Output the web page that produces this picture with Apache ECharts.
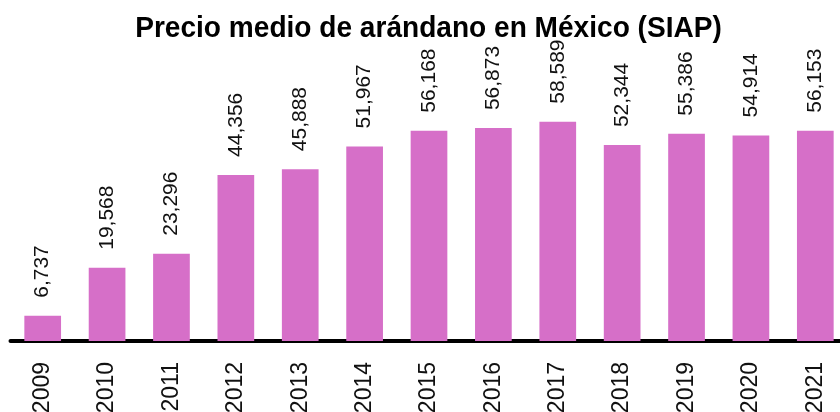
<!DOCTYPE html>
<html>
<head>
<meta charset="utf-8">
<script src="https://cdn.jsdelivr.net/npm/echarts@6/dist/echarts.min.js"></script>
<style>
    html, body { margin: 0; padding: 0; background: #fff; }
    #chart { width: 840px; height: 412px; }
</style>
</head>
<body>
<div id="chart"></div>
<script>
    var years = ['2009', '2010', '2011', '2012', '2013', '2014', '2015', '2016', '2017', '2018', '2019', '2020', '2021'];
    var precios = [6737, 19568, 23296, 44356, 45888, 51967, 56168, 56873, 58589, 52344, 55386, 54914, 56153];
    var titulo = 'Precio medio de arándano en México (SIAP)';

    var chart = echarts.init(document.getElementById('chart'));
    var option = {
        animation: false,
        // titulo un poco condensado, como en el original
        graphic: [{
            type: 'text',
            x: 428.5,
            y: 28.5,
            scaleX: 0.936,
            style: {
                text: titulo,
                fontFamily: "'Liberation Sans', Arial, sans-serif",
                fontWeight: 'bold',
                fontSize: 30,
                fill: '#000',
                align: 'center',
                verticalAlign: 'middle'
            }
        }],
        grid: {
            left: 10.5,
            right: -7.5,
            top: 116.4,
            bottom: 71,
            outerBoundsMode: 'none'
        },
        xAxis: {
            type: 'category',
            data: years,
            axisLine: { lineStyle: { color: '#000', width: 4 } },
            axisTick: { show: false },
            axisLabel: {
                rotate: 90,
                margin: 21,
                fontSize: 23,
                fontFamily: "'Liberation Sans', Arial, sans-serif",
                color: '#111'
            }
        },
        yAxis: {
            type: 'value',
            min: 0,
            max: 60000,
            show: false,
            splitLine: { show: false }
        },
        series: [{
            type: 'bar',
            data: precios,
            barWidth: '57%',
            itemStyle: { color: '#d66fc8' },
            label: {
                show: true,
                position: 'top',
                rotate: 90,
                align: 'left',
                verticalAlign: 'middle',
                distance: 18,
                fontSize: 21,
                fontFamily: "'Liberation Sans', Arial, sans-serif",
                color: '#111',
                formatter: function (p) {
                    return p.value.toLocaleString('en-US');
                }
            }
        }]
    };
    chart.setOption(option);
</script>
</body>
</html>
